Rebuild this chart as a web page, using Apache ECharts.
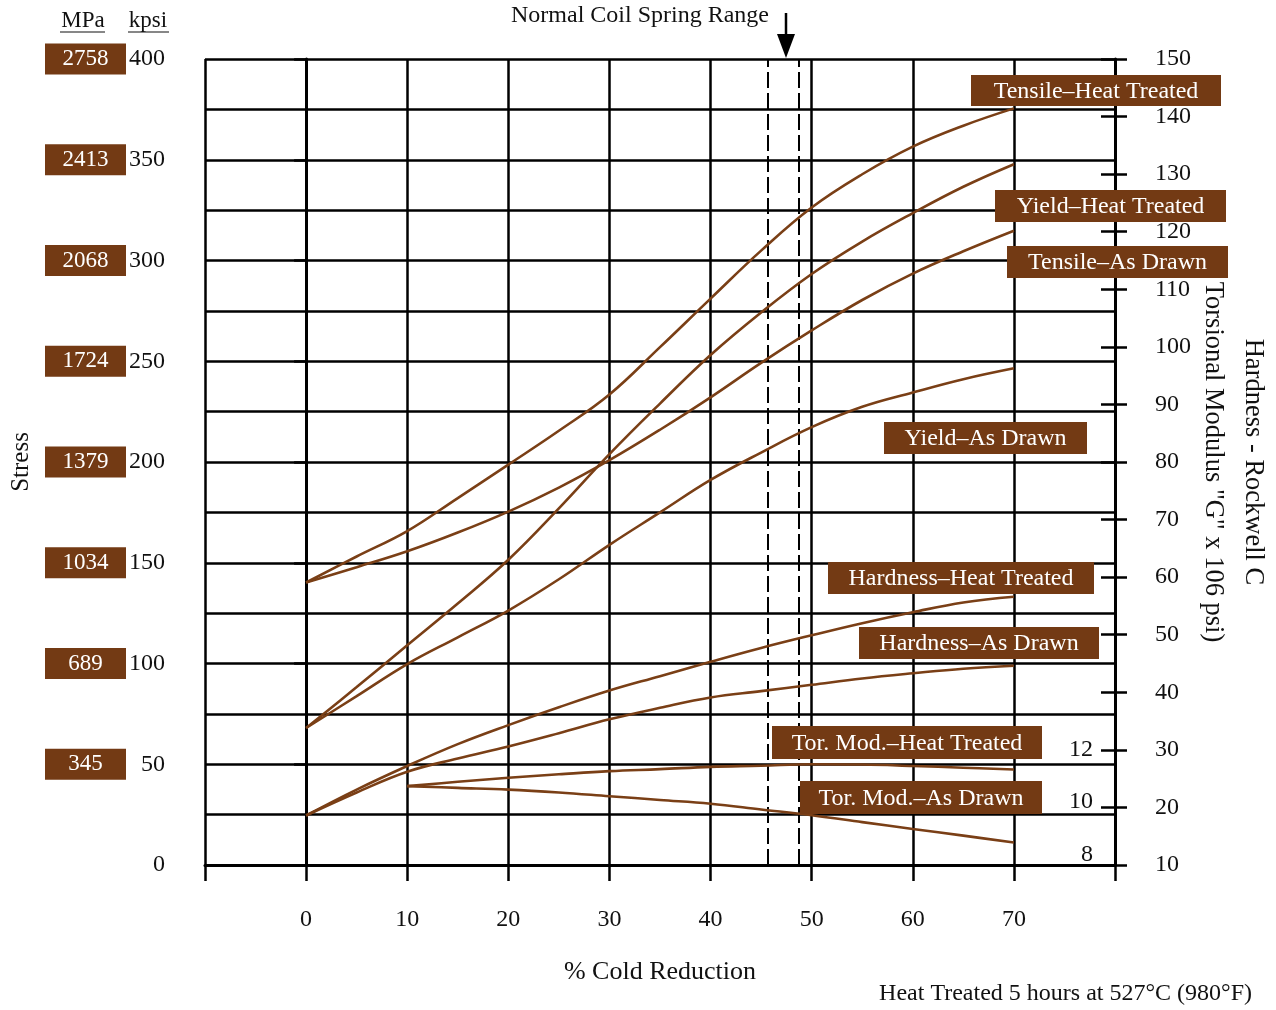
<!DOCTYPE html>
<html>
<head>
<meta charset="utf-8">
<script src="https://cdn.jsdelivr.net/npm/echarts@6/dist/echarts.min.js"></script>
<style>html,body{margin:0;padding:0;background:#fff}#c{width:1276px;height:1010px}</style>
</head>
<body>
<div id="c"></div>
<script>
// ---- data ----
const xValues      = [0, 5, 10, 15, 20, 25, 30, 35, 40, 45, 50, 55, 60, 65, 70];
const tensileHT    = [140.2, 153.1, 165.7, 182.1, 198.7, 215.5, 233.5, 257, 281.1, 304.9, 326.3, 342.8, 356.5, 366.9, 375.5];
const yieldHT      = [68, 88.3, 109.1, 129.8, 151.5, 177, 203.9, 229, 253.1, 274.2, 293.3, 309.4, 323.5, 336.6, 347.8];
const tensileAD    = [140.2, 147.8, 155.7, 165, 175.4, 187.3, 200.9, 216, 232.1, 249.2, 265.3, 280.4, 293.5, 304.6, 314.8];
const yieldAD      = [68, 83.8, 99.7, 113, 126.3, 141.8, 158.9, 175, 191.1, 204.7, 217.3, 227.4, 234.5, 241.1, 246.5];
const hardnessHT   = [18.6, 23.1, 27.2, 31.0, 34.3, 37.4, 40.3, 42.8, 45.3, 47.7, 49.9, 52.0, 53.9, 55.6, 56.6];
const hardnessAD   = [18.6, 22.6, 26.2, 28.5, 30.6, 32.9, 35.3, 37.3, 39.1, 40.2, 41.3, 42.4, 43.3, 44.1, 44.6];
const torModHT     = [null, null, 10.74, 10.89, 11.03, 11.15, 11.26, 11.33, 11.41, 11.45, 11.50, 11.49, 11.44, 11.38, 11.32];
const torModAD     = [null, null, 10.74, 10.68, 10.62, 10.52, 10.39, 10.26, 10.13, 9.93, 9.73, 9.49, 9.25, 9.02, 8.78];
const springRange  = [45.7, 48.7];
const kpsiTicks    = [0, 50, 100, 150, 200, 250, 300, 350, 400];
const mpaTickKpsi  = [50, 100, 150, 200, 250, 300, 350, 400];
const mpaLabels    = ['345', '689', '1034', '1379', '1724', '2068', '2413', '2758'];
const hardnessTicks = [10, 20, 30, 40, 50, 60, 70, 80, 90, 100, 110, 120, 130, 140, 150];
const torModLabelPos = [8.35, 10.2, 12];

// ---- styling ----
const FONT = "'Liberation Serif', 'DejaVu Serif', serif";
const BROWN = '#733a14';
const CURVE = '#7a3f16';
const BLACK = '#000';
const TXT = '#111';

function pairs(arr) {
  const out = [];
  xValues.forEach((x, i) => { if (arr[i] != null) out.push([x, arr[i]]); });
  return out;
}
function curve(name, arr, yIdx, extra) {
  return Object.assign({
    name, type: 'line', data: pairs(arr), yAxisIndex: yIdx,
    smooth: 0.4, showSymbol: false, symbol: 'none', silent: true,
    lineStyle: { color: CURVE, width: 2.6 }, z: 5
  }, extra || {});
}

const labelBoxes = [
  { text: 'Tensile–Heat Treated', x: 971, y: 75, w: 250, h: 31 },
  { text: 'Yield–Heat Treated', x: 995, y: 190, w: 231, h: 32 },
  { text: 'Tensile–As Drawn', x: 1007, y: 246, w: 221, h: 32 },
  { text: 'Yield–As Drawn', x: 884, y: 422, w: 203, h: 32 },
  { text: 'Hardness–Heat Treated', x: 828, y: 562, w: 266, h: 32 },
  { text: 'Hardness–As Drawn', x: 859, y: 627, w: 240, h: 32 },
  { text: 'Tor. Mod.–Heat Treated', x: 772, y: 726, w: 270, h: 33 },
  { text: 'Tor. Mod.–As Drawn', x: 800, y: 781, w: 242, h: 33 }
];
const graphics = [];
labelBoxes.forEach(b => {
  graphics.push({ type: 'rect', z: 100, shape: { x: b.x, y: b.y, width: b.w, height: b.h }, style: { fill: BROWN } });
  graphics.push({ type: 'text', z: 101, x: b.x + b.w / 2, y: b.y + b.h / 2 + 1,
    style: { text: b.text, fill: '#fff', font: '24px ' + FONT, textAlign: 'center', textVerticalAlign: 'middle' } });
});
// headers
graphics.push({ type: 'text', z: 101, x: 83, y: 21, style: { text: 'MPa', fill: TXT, font: '23px ' + FONT, textAlign: 'center', textVerticalAlign: 'middle' } });
graphics.push({ type: 'line', z: 101, shape: { x1: 60, y1: 32, x2: 105, y2: 32 }, style: { stroke: TXT, lineWidth: 1.2 } });
graphics.push({ type: 'text', z: 101, x: 148, y: 21, style: { text: 'kpsi', fill: TXT, font: '23px ' + FONT, textAlign: 'center', textVerticalAlign: 'middle' } });
graphics.push({ type: 'line', z: 101, shape: { x1: 128, y1: 32, x2: 169, y2: 32 }, style: { stroke: TXT, lineWidth: 1.2 } });
// spring range annotation
graphics.push({ type: 'text', z: 101, x: 640, y: 16, style: { text: 'Normal Coil Spring Range', fill: TXT, font: '24px ' + FONT, textAlign: 'center', textVerticalAlign: 'middle' } });
graphics.push({ type: 'line', z: 101, shape: { x1: 786, y1: 13, x2: 786, y2: 38 }, style: { stroke: BLACK, lineWidth: 2.5 } });
graphics.push({ type: 'polygon', z: 101, shape: { points: [[777, 34], [795, 34], [786, 58]] }, style: { fill: BLACK } });
// footnote
graphics.push({ type: 'text', z: 101, x: 1252, y: 994, style: { text: 'Heat Treated 5 hours at 527°C (980°F)', fill: TXT, font: '24px ' + FONT, textAlign: 'right', textVerticalAlign: 'middle' } });

const axisTextStyle = { fontFamily: FONT, fontSize: 24, color: TXT };

const option = {
  animation: false,
  backgroundColor: '#fff',
  grid: { left: 205, right: 161, top: 59, bottom: 145 },
  xAxis: {
    type: 'value', min: -10, max: 80, interval: 10,
    axisLine: { show: true, lineStyle: { color: BLACK, width: 3 } },
    axisTick: { show: true, length: 16, lineStyle: { color: BLACK, width: 2.5 } },
    axisLabel: Object.assign({ margin: 43, formatter: v => (v >= 0 && v <= 70) ? String(v) : '' }, axisTextStyle),
    splitLine: { show: true, lineStyle: { color: BLACK, width: 2.5 } },
    name: '% Cold Reduction', nameLocation: 'middle', nameGap: 94,
    nameTextStyle: { fontFamily: FONT, fontSize: 26, color: TXT }
  },
  yAxis: [
    { // 0: kpsi
      type: 'value', position: 'left', min: 0, max: 400, interval: 50,
      axisLine: { show: true, lineStyle: { color: BLACK, width: 3 } },
      axisTick: { show: true, length: 12, customValues: kpsiTicks, lineStyle: { color: BLACK, width: 2.5 } },
      axisLabel: Object.assign({ margin: 40, customValues: kpsiTicks }, axisTextStyle),
      splitLine: { show: false },
      name: 'Stress', nameLocation: 'middle', nameGap: 171, nameRotate: 90,
      nameTextStyle: { fontFamily: FONT, fontSize: 25, color: TXT }
    },
    { // 1: MPa labels
      type: 'value', position: 'left', min: 0, max: 400, interval: 50,
      axisLine: { show: false }, axisTick: { show: false }, splitLine: { show: false },
      axisLabel: {
        margin: 79, customValues: mpaTickKpsi,
        formatter: v => '{b|' + mpaLabels[mpaTickKpsi.indexOf(v)] + '}',
        rich: { b: { backgroundColor: BROWN, color: '#fff', width: 81, height: 31, lineHeight: 31, align: 'center', verticalAlign: 'middle', fontFamily: FONT, fontSize: 23 } }
      }
    },
    { // 2: Hardness
      type: 'value', position: 'right', min: 10, max: 150, interval: 10,
      axisLine: { show: true, lineStyle: { color: BLACK, width: 3 } },
      axisTick: { show: true, length: 12, customValues: hardnessTicks, lineStyle: { color: BLACK, width: 2.5 } },
      axisLabel: Object.assign({ margin: 40, customValues: hardnessTicks }, axisTextStyle),
      splitLine: { show: false },
      name: 'Hardness - Rockwell C', nameLocation: 'middle', nameGap: 124, nameRotate: -90,
      nameTextStyle: { fontFamily: FONT, fontSize: 26.5, color: TXT }
    },
    { // 3: Hardness inner ticks
      type: 'value', position: 'right', min: 10, max: 150, interval: 10,
      axisLine: { show: false }, splitLine: { show: false }, axisLabel: { show: false },
      axisTick: { show: true, inside: true, length: 14, customValues: hardnessTicks, lineStyle: { color: BLACK, width: 2.5 } }
    },
    { // 4: Torsional modulus
      type: 'value', position: 'right', min: 8, max: 36,
      axisLine: { show: false }, splitLine: { show: false },
      axisTick: { show: false },
      axisLabel: Object.assign({ inside: true, margin: 22, customValues: torModLabelPos, formatter: v => String(Math.floor(v)) }, axisTextStyle),
      name: 'Torsional Modulus "G" x 106 psi)', nameLocation: 'middle', nameGap: 84, nameRotate: -90,
      nameTextStyle: { fontFamily: FONT, fontSize: 26.5, color: TXT }
    },
    { // 5: horizontal grid every 25 kpsi
      type: 'value', position: 'left', min: 0, max: 400, interval: 25,
      axisLine: { show: false }, axisTick: { show: false }, axisLabel: { show: false },
      splitLine: { show: true, lineStyle: { color: BLACK, width: 2.5 } }
    }
  ],
  series: [
    curve('Tensile–Heat Treated', tensileHT, 0, {
      markLine: {
        silent: true, symbol: 'none', label: { show: false },
        lineStyle: { color: BLACK, type: [16, 5], width: 2 },
        data: springRange.map(v => ({ xAxis: v }))
      }
    }),
    curve('Yield–Heat Treated', yieldHT, 0),
    curve('Tensile–As Drawn', tensileAD, 0),
    curve('Yield–As Drawn', yieldAD, 0),
    curve('Hardness–Heat Treated', hardnessHT, 2),
    curve('Hardness–As Drawn', hardnessAD, 2),
    curve('Tor. Mod.–Heat Treated', torModHT, 4),
    curve('Tor. Mod.–As Drawn', torModAD, 4)
  ],
  graphic: graphics
};

const chart = echarts.init(document.getElementById('c'), null, { renderer: 'canvas' });
chart.setOption(option);
</script>
</body>
</html>
